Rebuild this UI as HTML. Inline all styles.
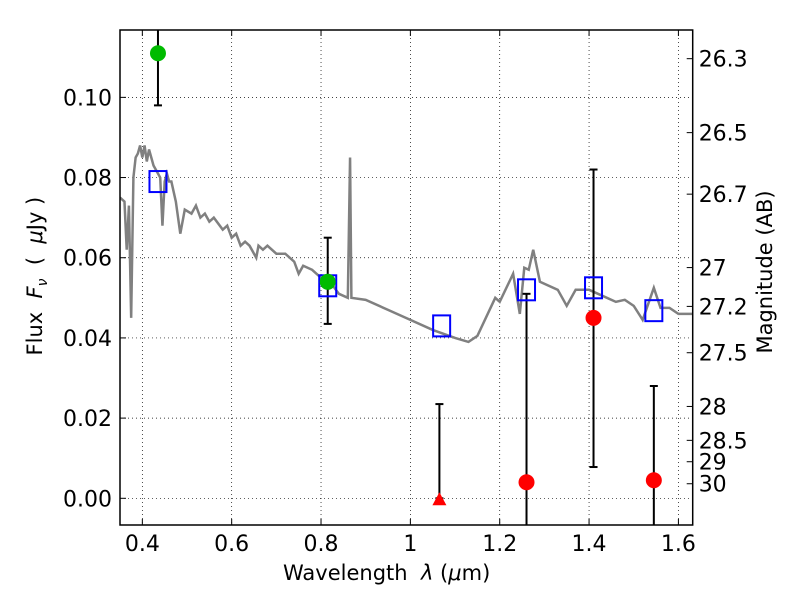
<!DOCTYPE html>
<html><head><meta charset="utf-8"><style>
body{margin:0;background:#fff;width:800px;height:600px;overflow:hidden}
svg{font-family:"DejaVu Sans","Liberation Sans",sans-serif}
</style></head><body>
<svg id="chart" width="800" height="600" xmlns="http://www.w3.org/2000/svg"></svg>
<script>
const xTicks=[0.4,0.6,0.8,1.0,1.2,1.4,1.6];
const xTickLabels=["0.4","0.6","0.8","1","1.2","1.4","1.6"];
const yTicks=[0,0.02,0.04,0.06,0.08,0.10];
const yTickLabels=["0.00","0.02","0.04","0.06","0.08","0.10"];
const magTicks=[26.3,26.5,26.7,27,27.2,27.5,28,28.5,29,30];
const specLam=[0.35,0.36,0.365,0.37,0.375,0.38,0.385,0.39,0.395,0.40,0.405,0.41,0.415,0.42,0.425,0.43,0.44,0.445,0.45,0.455,0.46,0.465,0.475,0.485,0.495,0.51,0.52,0.53,0.54,0.55,0.56,0.58,0.59,0.60,0.61,0.62,0.63,0.64,0.655,0.66,0.67,0.68,0.70,0.72,0.74,0.75,0.76,0.78,0.80,0.82,0.84,0.86,0.865,0.868,0.90,0.95,1.0,1.05,1.10,1.13,1.15,1.19,1.20,1.23,1.245,1.255,1.265,1.275,1.29,1.33,1.35,1.37,1.40,1.43,1.46,1.48,1.50,1.52,1.545,1.56,1.58,1.60,1.632];
const specFlux=[0.075,0.074,0.062,0.073,0.045,0.080,0.085,0.086,0.088,0.085,0.088,0.084,0.087,0.085,0.083,0.082,0.080,0.068,0.079,0.081,0.079,0.079,0.074,0.066,0.072,0.071,0.073,0.070,0.071,0.069,0.070,0.067,0.068,0.065,0.066,0.063,0.064,0.063,0.060,0.063,0.062,0.063,0.061,0.061,0.059,0.056,0.058,0.057,0.055,0.054,0.051,0.050,0.085,0.050,0.0495,0.047,0.0445,0.042,0.040,0.039,0.0405,0.050,0.049,0.056,0.046,0.0575,0.057,0.062,0.054,0.052,0.048,0.052,0.052,0.0505,0.049,0.0495,0.048,0.0445,0.0525,0.0475,0.0475,0.046,0.046];
const greenLam=[0.435,0.815];
const greenFlux=[0.111,0.054];
const greenLo=[0.098,0.0435];
const greenHi=[0.13,0.065];
const modelLam=[0.435,0.815,1.07,1.26,1.41,1.545];
const modelFlux=[0.079,0.053,0.043,0.052,0.0525,0.0468];
const redLam=[1.26,1.41,1.545];
const redFlux=[0.004,0.045,0.0045];
const redLo=[-0.01,0.0078,-0.01];
const redHi=[0.051,0.082,0.028];
const limLam=[1.065];
const limFlux=[0.0];
const limHi=[0.0235];

const L=120,R=692.7,T=30,B=525;
const xmin=0.35,xmax=1.632,ymin=-0.00666,ymax=0.1168;
const X=v=>L+(v-xmin)/(xmax-xmin)*(R-L);
const Y=v=>B-(v-ymin)/(ymax-ymin)*(B-T);
const svg=document.getElementById('chart');
const NS='http://www.w3.org/2000/svg';
function mk(tag,attrs,parent){const e=document.createElementNS(NS,tag);for(const k in attrs)e.setAttribute(k,attrs[k]);(parent||svg).appendChild(e);return e;}
const defs=mk('defs',{});const cp=mk('clipPath',{id:'clip'},defs);mk('rect',{x:L,y:T,width:R-L,height:B-T},cp);

xTicks.forEach((t,i)=>{
 const g=mk('line',{x1:X(t),x2:X(t),y1:T,y2:B,stroke:'#000','stroke-width':0.7,'stroke-dasharray':'1,3'});
 
 
 mk('line',{x1:X(t),x2:X(t),y1:B,y2:B-6,stroke:'#000'});
 mk('line',{x1:X(t),x2:X(t),y1:T,y2:T+6,stroke:'#000'});
 const tx=mk('text',{x:X(t),y:B+26,'font-size':22,'text-anchor':'middle'});
 tx.textContent=xTickLabels[i];
 
 
});
yTicks.forEach((t,i)=>{
 const g=mk('line',{x1:L,x2:R,y1:Y(t),y2:Y(t),stroke:'#000','stroke-width':0.7,'stroke-dasharray':'1,3'});
 
 
 mk('line',{x1:L,x2:L+6,y1:Y(t),y2:Y(t),stroke:'#000'});
 const tx=mk('text',{x:L-8,y:Y(t)+8,'font-size':22,'text-anchor':'end'});
 tx.textContent=yTickLabels[i];
 
 
});
magTicks.forEach(m=>{
 const f=Math.pow(10,(23.9-m)/2.5);const y=Y(f);
 mk('line',{x1:R,x2:R-6,y1:y,y2:y,stroke:'#000'});
 const tx=mk('text',{x:R+6,y:y+8,'font-size':22});
 tx.textContent=String(m);
 
 
});
const sp=mk('polyline',{points:specLam.map((l,i)=>X(l)+','+Y(specFlux[i])).join(' '),fill:'none',stroke:'#808080','stroke-width':2.5,'clip-path':'url(#clip)'});


function ebar(l,lo,hi){
 const g=mk('g',{'clip-path':'url(#clip)'});
 
 
 mk('line',{x1:X(l),x2:X(l),y1:Y(lo),y2:Y(hi),stroke:'#000','stroke-width':2},g);
 [lo,hi].forEach(v=>mk('line',{x1:X(l)-4,x2:X(l)+4,y1:Y(v),y2:Y(v),stroke:'#000','stroke-width':2},g));
}
greenLam.forEach((l,i)=>ebar(l,greenLo[i],greenHi[i]));
redLam.forEach((l,i)=>ebar(l,redLo[i],redHi[i]));
limLam.forEach((l,i)=>ebar(l,limFlux[i],limHi[i]));
modelLam.forEach((l,i)=>{
 const r=mk('rect',{x:X(l)-8.5,y:Y(modelFlux[i])-10.5,width:17,height:21,fill:'none',stroke:'#0000ff','stroke-width':2});
 
 
});
greenLam.forEach((l,i)=>{
 const c=mk('circle',{cx:X(l),cy:Y(greenFlux[i]),r:8,fill:'#00bb00'});
 
 
});
redLam.forEach((l,i)=>{
 const c=mk('circle',{cx:X(l),cy:Y(redFlux[i]),r:8,fill:'#ff0000'});
 
 
});
limLam.forEach((l,i)=>{
 const x=X(l),y=Y(limFlux[i]);
 const p=mk('polygon',{points:`${x-7},${y+7} ${x+7},${y+7} ${x},${y-6}`,fill:'#ff0000'});
 
 
});
const fr=mk('rect',{x:L,y:T,width:R-L,height:B-T,fill:'none',stroke:'#000','stroke-width':1.5});


</script>
<div style="position:absolute;left:0;top:0;width:800px;height:600px;pointer-events:none">
<div style="position:absolute;left:283px;top:561px;font:21px 'DejaVu Sans',sans-serif;white-space:nowrap">Wavelength&nbsp; <i>λ</i> (<i>μ</i>m)</div>
<div style="position:absolute;left:-63px;top:262px;width:200px;text-align:center;transform:rotate(-90deg);font:21px 'DejaVu Sans',sans-serif;white-space:nowrap">Flux&nbsp; <i>F<sub style="font-size:14px">ν</sub></i>&nbsp; (&nbsp; <i>μ</i>Jy )</div>
<div style="position:absolute;left:665px;top:260px;width:200px;text-align:center;transform:rotate(-90deg);font:21px 'DejaVu Sans',sans-serif;white-space:nowrap">Magnitude (AB)</div>
</div>
</body></html>
